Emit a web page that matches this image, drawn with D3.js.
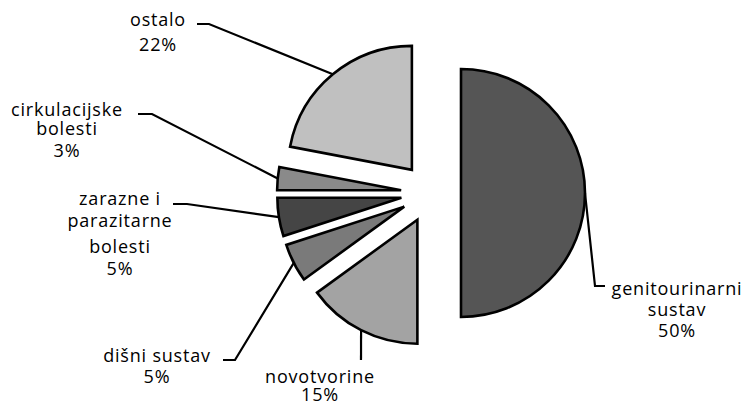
<!DOCTYPE html>
<html>
<head>
<meta charset="utf-8">
<script src="https://cdn.jsdelivr.net/npm/d3@7"></script>
<style>
  html, body { margin: 0; padding: 0; background: #fff; }
  svg { display: block; }
  text { font-family: "Open Sans", sans-serif; font-size: 18px; letter-spacing: 0.8px; fill: #000; }
</style>
</head>
<body>
<svg id="chart" width="744" height="404"></svg>
<script>
// ---- data ----
const categories = ["genitourinarni sustav", "novotvorine", "dišni sustav", "zarazne i parazitarne bolesti", "cirkulacijske bolesti", "ostalo"];
const values = [50, 15, 5, 5, 3, 22];
const fills = ["#555555", "#a3a3a3", "#7a7a7a", "#454545", "#8a8a8a", "#c0c0c0"];

// ---- layout (label lines, anchors, leader elbows) ----
const labelLayout = [
  { lines: ["genitourinarni", "sustav"], cx: 677, base: [295, 316, 337], elbow: [[595, 286], [605, 286]] },
  { lines: ["novotvorine"], cx: 320, base: [383, 401], elbow: [[361, 360]] },
  { lines: ["dišni sustav"], cx: 157, base: [362, 383], elbow: [[235, 360], [223, 360]] },
  { lines: ["zarazne i", "parazitarne", "bolesti"], cx: 120, base: [205, 227, 253, 275], elbow: [[187, 204], [173, 204]] },
  { lines: ["cirkulacijske", "bolesti"], cx: 67, base: [116, 135, 157], elbow: [[152, 114], [138, 114]] },
  { lines: ["ostalo"], cx: 158, base: [26, 51], elbow: [[209, 24], [197, 24]] }
];

const svg = d3.select("#chart");
const cx = 431, cy = 193, radius = 124, explode = 30;
const total = d3.sum(values);

const pie = d3.pie().sort(null).value(d => d)(values);
const arc = d3.arc().innerRadius(0).outerRadius(radius);

const g = svg.append("g").attr("transform", `translate(${cx},${cy})`);

pie.forEach((p, i) => {
  const mid = (p.startAngle + p.endAngle) / 2;
  const ox = Math.sin(mid) * explode, oy = -Math.cos(mid) * explode;
  g.append("path")
    .attr("d", arc(p))
    .attr("transform", `translate(${ox},${oy})`)
    .attr("fill", fills[i])
    .attr("stroke", "#000")
    .attr("stroke-width", 2.6)
    .attr("stroke-linejoin", "miter");

  // leader line
  const ax = cx + ox + Math.sin(mid) * radius;
  const ay = cy + oy - Math.cos(mid) * radius;
  const L = labelLayout[i];
  const pts = [[ax, ay], ...L.elbow];
  svg.append("path")
    .attr("d", d3.line()(pts))
    .attr("fill", "none")
    .attr("stroke", "#000")
    .attr("stroke-width", 2.2);

  // label text (one text element, one tspan per line)
  const pct = Math.round(values[i] / total * 100) + "%";
  const lines = [...L.lines, pct];
  const t = svg.append("text").attr("text-anchor", "middle");
  lines.forEach((s, k) => {
    t.append("tspan")
      .attr("x", L.cx)
      .attr("y", L.base[k])
      .text(s);
  });
});
</script>
</body>
</html>
